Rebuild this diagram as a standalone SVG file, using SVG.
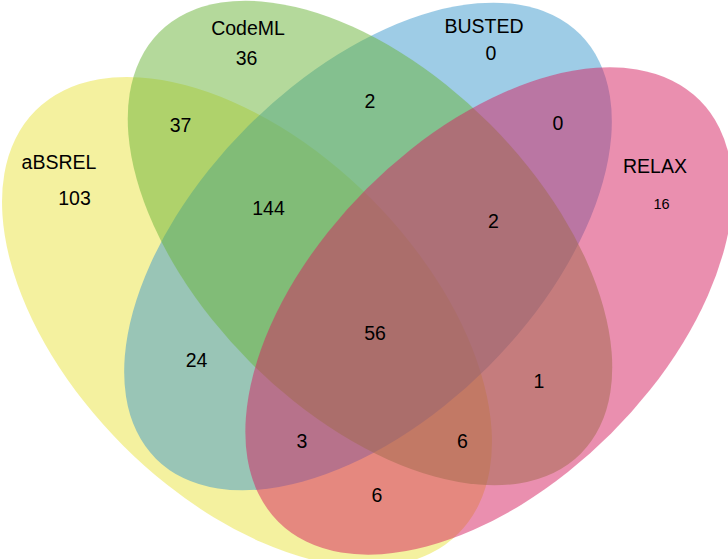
<svg xmlns="http://www.w3.org/2000/svg" width="728" height="559" viewBox="0 0 728 559">
<style>
.set{fill-opacity:0.5;stroke:none}
text{font-family:"Liberation Sans",Arial,sans-serif;font-size:19.5px;fill:#000;text-anchor:middle}
.small{font-size:14.5px}
</style>
<rect width="728" height="559" fill="#ffffff"/>
<g id="aBSREL">
<ellipse class="set" cx="247" cy="322" rx="299" ry="175" transform="rotate(45 247 322)" fill="#E9E33F"/>
</g>
<g id="BUSTED">
<ellipse class="set" cx="368" cy="246.5" rx="300" ry="170" transform="rotate(-45 368 246.5)" fill="#3D99CD"/>
</g>
<g id="CodeML">
<ellipse class="set" cx="370" cy="243" rx="298" ry="169" transform="rotate(45 370 243)" fill="#69B337"/>
</g>
<g id="RELAX">
<ellipse class="set" cx="489" cy="311" rx="298" ry="173" transform="rotate(-45 489 311)" fill="#D51F5F"/>
</g>
<g id="labels">
<text x="59" y="169">aBSREL</text>
<text x="248" y="35">CodeML</text>
<text x="484" y="33">BUSTED</text>
<text x="655" y="173">RELAX</text>
</g>
<g id="counts">
<text x="74.5" y="205">103</text>
<text x="246.5" y="65">36</text>
<text x="491" y="60">0</text>
<text class="small" x="661.5" y="209">16</text>
<text x="180.5" y="132">37</text>
<text x="370" y="108">2</text>
<text x="558" y="130">0</text>
<text x="268.5" y="215">144</text>
<text x="493.5" y="228">2</text>
<text x="375" y="340">56</text>
<text x="196.5" y="367">24</text>
<text x="539" y="388">1</text>
<text x="302" y="448">3</text>
<text x="462.5" y="448">6</text>
<text x="377" y="502">6</text>
</g>
</svg>
